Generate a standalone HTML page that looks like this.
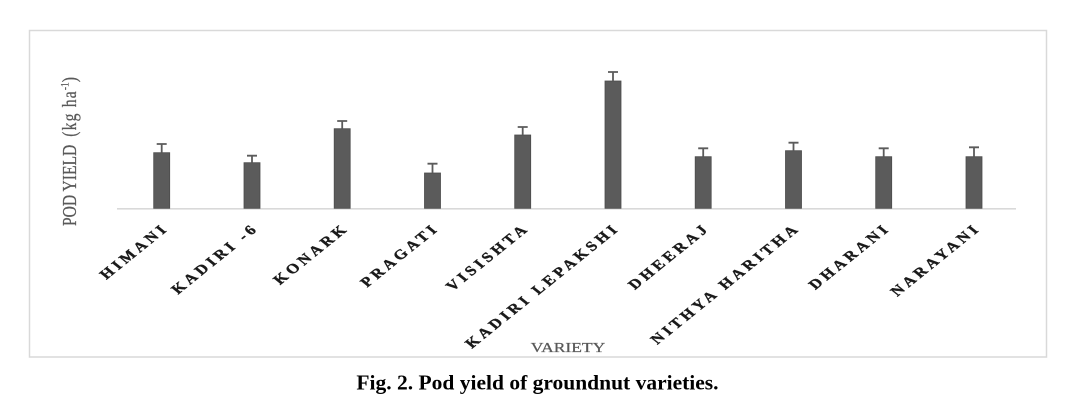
<!DOCTYPE html>
<html>
<head>
<meta charset="utf-8">
<style>
  html, body { margin: 0; padding: 0; background: #ffffff; }
  body { width: 1074px; height: 409px; overflow: hidden; }
  svg { display: block; }
  .lbl { font-family: "Liberation Serif", serif; font-weight: bold; font-size: 13.6px; letter-spacing: 3.1px; fill: #1a1a1a; stroke: #1a1a1a; stroke-width: 0.4; }
</style>
</head>
<body>
<svg width="1074" height="409" viewBox="0 0 1074 409" xmlns="http://www.w3.org/2000/svg">
  <rect x="0" y="0" width="1074" height="409" fill="#ffffff"/>
  <!-- chart frame -->
  <rect x="29.5" y="30.5" width="1017" height="326.5" fill="#ffffff" stroke="#d9d9d9" stroke-width="1.5"/>

  <!-- baseline -->
  <line x1="117" y1="208.8" x2="1016" y2="208.8" stroke="#d9d9d9" stroke-width="1.6"/>

  <!-- bars + error bars -->
  <g fill="#5b5b5b" stroke="#4c4c4c" stroke-width="0.8">
    <rect x="153.7" y="152.7" width="16" height="55.6"/>
    <rect x="244.0" y="162.7" width="16" height="45.6"/>
    <rect x="334.2" y="128.7" width="16" height="79.6"/>
    <rect x="424.5" y="173.0" width="16" height="35.3"/>
    <rect x="514.7" y="135.0" width="16" height="73.3"/>
    <rect x="605.0" y="81.0" width="16" height="127.3"/>
    <rect x="695.2" y="156.7" width="16" height="51.6"/>
    <rect x="785.5" y="150.7" width="16" height="57.6"/>
    <rect x="875.7" y="156.7" width="16" height="51.6"/>
    <rect x="966.0" y="156.7" width="16" height="51.6"/>
  </g>
  <g stroke="#5b5b5b" stroke-width="1.8" fill="none">
    <path d="M161.7 152.7 V144 M156.7 144 H166.7"/>
    <path d="M252 162.7 V155.7 M247 155.7 H257"/>
    <path d="M342.2 128.7 V121 M337.2 121 H347.2"/>
    <path d="M432.5 173 V163.7 M427.5 163.7 H437.5"/>
    <path d="M522.7 135 V127 M517.7 127 H527.7"/>
    <path d="M613 81 V72 M608 72 H618"/>
    <path d="M703.2 156.7 V148.3 M698.2 148.3 H708.2"/>
    <path d="M793.5 150.7 V142.7 M788.5 142.7 H798.5"/>
    <path d="M883.7 156.7 V148.3 M878.7 148.3 H888.7"/>
    <path d="M974 156.7 V147.3 M969 147.3 H979"/>
  </g>

  <!-- category labels (rotated, horizontally stretched) -->
  <g class="lbl">
    <text transform="translate(167,231) matrix(0.877,-0.707,0.877,0.707,0,0)" x="3.1" text-anchor="end">HIMANI</text>
    <text transform="translate(257,231) matrix(0.877,-0.707,0.877,0.707,0,0)" x="3.1" text-anchor="end">KADIRI -6</text>
    <text transform="translate(347.2,231) matrix(0.877,-0.707,0.877,0.707,0,0)" x="3.1" text-anchor="end">KONARK</text>
    <text transform="translate(437.5,231) matrix(0.877,-0.707,0.877,0.707,0,0)" x="3.1" text-anchor="end">PRAGATI</text>
    <text transform="translate(527.7,231) matrix(0.877,-0.707,0.877,0.707,0,0)" x="3.1" text-anchor="end">VISISHTA</text>
    <text transform="translate(618,231) matrix(0.877,-0.707,0.877,0.707,0,0)" x="3.1" text-anchor="end">KADIRI LEPAKSHI</text>
    <text transform="translate(708.2,231) matrix(0.877,-0.707,0.877,0.707,0,0)" x="3.1" text-anchor="end">DHEERAJ</text>
    <text transform="translate(798.5,231) matrix(0.877,-0.707,0.877,0.707,0,0)" x="3.1" text-anchor="end">NITHYA HARITHA</text>
    <text transform="translate(888.7,231) matrix(0.877,-0.707,0.877,0.707,0,0)" x="3.1" text-anchor="end">DHARANI</text>
    <text transform="translate(979,231) matrix(0.877,-0.707,0.877,0.707,0,0)" x="3.1" text-anchor="end">NARAYANI</text>
  </g>

  <!-- y axis title -->
  <text transform="matrix(0,-1,1.25,0,76,226)" x="0" y="0" font-family="Liberation Serif, serif" font-size="15.6" fill="#595959" stroke="#595959" stroke-width="0.2">POD YIELD<tspan dx="8" letter-spacing="1.2">(kg ha</tspan><tspan font-size="9.5" dy="-6">-1</tspan><tspan dy="6">)</tspan></text>

  <!-- x axis title -->
  <text transform="matrix(1.25,0,0,1,568,352)" x="0" y="0" text-anchor="middle" font-family="Liberation Serif, serif" font-size="14" fill="#595959" stroke="#595959" stroke-width="0.25">VARIETY</text>

  <!-- caption -->
  <text x="537.5" y="389.5" text-anchor="middle" font-family="Liberation Serif, serif" font-weight="bold" font-size="21.5" fill="#000000">Fig. 2. Pod yield of groundnut varieties.</text>
</svg>
</body>
</html>
